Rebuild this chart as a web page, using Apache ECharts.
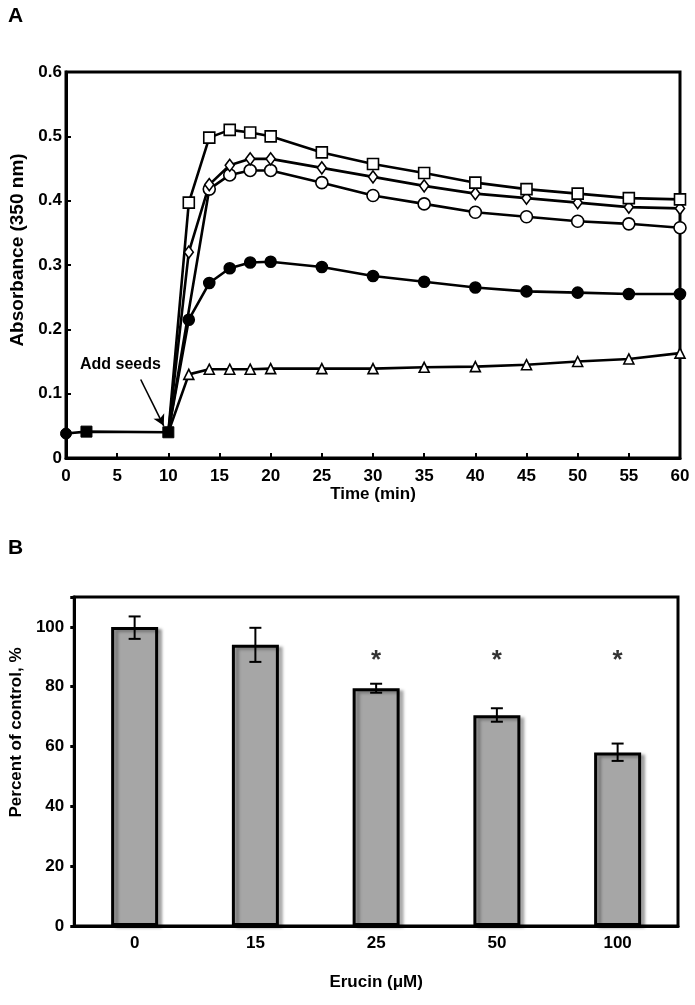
<!DOCTYPE html>
<html>
<head>
<meta charset="utf-8">
<script src="https://cdn.jsdelivr.net/npm/echarts@6/dist/echarts.min.js"></script>
<style>
html,body{margin:0;padding:0;background:#fff;}
#c{width:695px;height:1005px;}
</style>
</head>
<body>
<div id="c"></div>
<script>
// ---- Panel A data ----
const baseTimes = [0, 2, 10];
const baseValues = [0.038, 0.041, 0.040];
const times = [10, 12, 14, 16, 18, 20, 25, 30, 35, 40, 45, 50, 55, 60];
const squareOpen = [0.040, 0.397, 0.498, 0.510, 0.506, 0.500, 0.475, 0.457, 0.443, 0.428, 0.418, 0.411, 0.404, 0.402];
const diamondOpen = [0.040, 0.320, 0.425, 0.455, 0.465, 0.465, 0.451, 0.437, 0.423, 0.411, 0.404, 0.397, 0.390, 0.388];
const circleOpen = [0.040, null, 0.418, 0.440, 0.447, 0.447, 0.428, 0.408, 0.395, 0.382, 0.375, 0.368, 0.364, 0.358];
const circleFilled = [0.040, 0.215, 0.272, 0.295, 0.304, 0.305, 0.297, 0.283, 0.274, 0.265, 0.259, 0.257, 0.255, 0.255];
const triangleOpen = [0.040, 0.130, 0.138, 0.138, 0.138, 0.139, 0.139, 0.139, 0.141, 0.142, 0.145, 0.150, 0.154, 0.163];

// ---- Panel B data ----
const doses = ['0', '15', '25', '50', '100'];
const percent = [100, 94, 79.5, 70.5, 58];
const errLow = [96, 88.3, 78, 68.3, 55.2];
const errHigh = [103.5, 99.7, 81, 72.8, 61];
const significant = [false, false, true, true, true];

const FONT = 'Liberation Sans';
const chart = echarts.init(document.getElementById('c'), null, {renderer: 'canvas'});

function lineSeries(vals, symbol, size, fill) {
  return {
    type: 'line', xAxisIndex: 0, yAxisIndex: 0,
    data: times.map((t, i) => {
      const item = {value: [t, vals[i]]};
      if (i === 0) item.symbolSize = 0;
      return vals[i] === null ? {value: [t, null]} : item;
    }),
    connectNulls: true,
    symbol: symbol, symbolSize: size, showAllSymbol: true,
    lineStyle: {color: '#000', width: 2.6},
    itemStyle: {color: fill, borderColor: '#000', borderWidth: 1.6},
    z: 3
  };
}

const axisLabelStyle = {color: '#000', fontFamily: FONT, fontWeight: 'bold', fontSize: 17};
const nameStyle = {color: '#000', fontFamily: FONT, fontWeight: 'bold', fontSize: 17};

const option = {
  animation: false,
  backgroundColor: '#fff',
  grid: [
    {left: 66, right: 15, top: 72, height: 386, show: true, borderColor: '#000', borderWidth: 3, backgroundColor: 'transparent'},
    {left: 66, right: 17, top: 597, height: 329, show: true, borderColor: '#000', borderWidth: 3, backgroundColor: 'transparent'}
  ],
  xAxis: [
    {type: 'value', gridIndex: 0, min: 0, max: 60, interval: 5,
     axisLine: {lineStyle: {color: '#000', width: 3}},
     axisTick: {inside: true, length: 5, lineStyle: {color: '#000', width: 2}},
     axisLabel: Object.assign({margin: 10}, axisLabelStyle),
     splitLine: {show: false},
     name: 'Time (min)', nameLocation: 'middle', nameGap: 22, nameTextStyle: nameStyle},
    {type: 'category', gridIndex: 1, data: doses,
     axisLine: {lineStyle: {color: '#000', width: 3}},
     axisTick: {show: false},
     axisLabel: Object.assign({margin: 9}, axisLabelStyle),
     name: 'Erucin (\u03BCM)', nameLocation: 'middle', nameGap: 48, nameTextStyle: nameStyle}
  ],
  yAxis: [
    {type: 'value', gridIndex: 0, min: 0, max: 0.6, interval: 0.1,
     axisLine: {show: true, lineStyle: {color: '#000', width: 3}},
     axisTick: {show: true, inside: true, length: 5, lineStyle: {color: '#000', width: 2}},
     axisLabel: Object.assign({margin: 4, formatter: v => v === 0 ? '0' : v.toFixed(1)}, axisLabelStyle),
     splitLine: {show: false},
     name: 'Absorbance (350 nm)', nameLocation: 'middle', nameGap: 34,
     nameTextStyle: Object.assign({}, nameStyle, {fontSize: 19, padding: [0, 0, 0, 30]})},
    {type: 'value', gridIndex: 1, min: 0, max: 110, interval: 20,
     axisLine: {show: true, lineStyle: {color: '#000', width: 3}},
     axisTick: {show: true, inside: false, length: 4, lineStyle: {color: '#000', width: 3}},
     axisLabel: Object.assign({margin: 10, formatter: v => (v % 20 === 0 ? String(v) : '')}, axisLabelStyle),
     splitLine: {show: false},
     name: 'Percent of control, %', nameLocation: 'middle', nameGap: 43,
     nameTextStyle: Object.assign({}, nameStyle, {padding: [0, 0, 0, 58]})}
  ],
  graphic: [
    {type: 'text', left: 8, top: 6, style: {text: 'A', fontFamily: FONT, fontWeight: 'bold', fontSize: 21, fill: '#000'}},
    {type: 'text', left: 8, top: 538, style: {text: 'B', fontFamily: FONT, fontWeight: 'bold', fontSize: 21, fill: '#000'}},
    {type: 'text', left: 80, top: 357, style: {text: 'Add seeds', fontFamily: FONT, fontWeight: 'bold', fontSize: 16, fill: '#000'}}
  ],
  series: [
    lineSeries(triangleOpen, 'triangle', 10, '#fff'),
    lineSeries(circleFilled, 'circle', 11, '#000'),
    lineSeries(circleOpen, 'circle', 12, '#fff'),
    lineSeries(diamondOpen, 'diamond', [9, 12], '#fff'),
    lineSeries(squareOpen, 'rect', 11, '#fff'),
    {
      type: 'line', xAxisIndex: 0, yAxisIndex: 0,
      data: baseTimes.map((t, i) => ({value: [t, baseValues[i]], symbol: i === 0 ? 'circle' : 'rect'})),
      symbolSize: 11, showAllSymbol: true,
      lineStyle: {color: '#000', width: 2.6},
      itemStyle: {color: '#000', borderColor: '#000'},
      z: 5,
      markLine: {
        silent: true, symbol: ['none', 'arrow'], symbolSize: [9, 11],
        lineStyle: {color: '#000', width: 1.6, type: 'solid'},
        label: {show: false},
        data: [[{coord: [7.3, 0.122]}, {coord: [9.55, 0.05]}]]
      }
    },
    {
      type: 'bar', xAxisIndex: 1, yAxisIndex: 1, data: percent, barWidth: 47,
      itemStyle: {color: '#a6a6a6', borderColor: '#000', borderWidth: 3,
                  shadowColor: 'rgba(0,0,0,0.3)', shadowBlur: 3, shadowOffsetX: 4, shadowOffsetY: 2},
      z: 2
    },
    {
      type: 'custom', xAxisIndex: 1, yAxisIndex: 1,
      data: doses.map((d, i) => [i, errLow[i], errHigh[i]]),
      renderItem: function (params, api) {
        const lo = api.coord([api.value(0), api.value(1)]);
        const hi = api.coord([api.value(0), api.value(2)]);
        const w = 6;
        const st = {stroke: '#000', lineWidth: 2};
        return {type: 'group', children: [
          {type: 'line', shape: {x1: hi[0], y1: hi[1], x2: lo[0], y2: lo[1]}, style: st},
          {type: 'line', shape: {x1: hi[0] - w, y1: hi[1], x2: hi[0] + w, y2: hi[1]}, style: st},
          {type: 'line', shape: {x1: lo[0] - w, y1: lo[1], x2: lo[0] + w, y2: lo[1]}, style: st}
        ]};
      },
      z: 4
    },
    {
      type: 'scatter', xAxisIndex: 1, yAxisIndex: 1,
      data: doses.map((d, i) => significant[i] ? [i, 88.7] : null).filter(v => v),
      symbolSize: 0,
      label: {show: true, position: 'inside', formatter: '*', color: '#000', fontFamily: FONT, fontWeight: 'bold', fontSize: 26},
      z: 5
    }
  ]
};
chart.setOption(option);
</script>
</body>
</html>
